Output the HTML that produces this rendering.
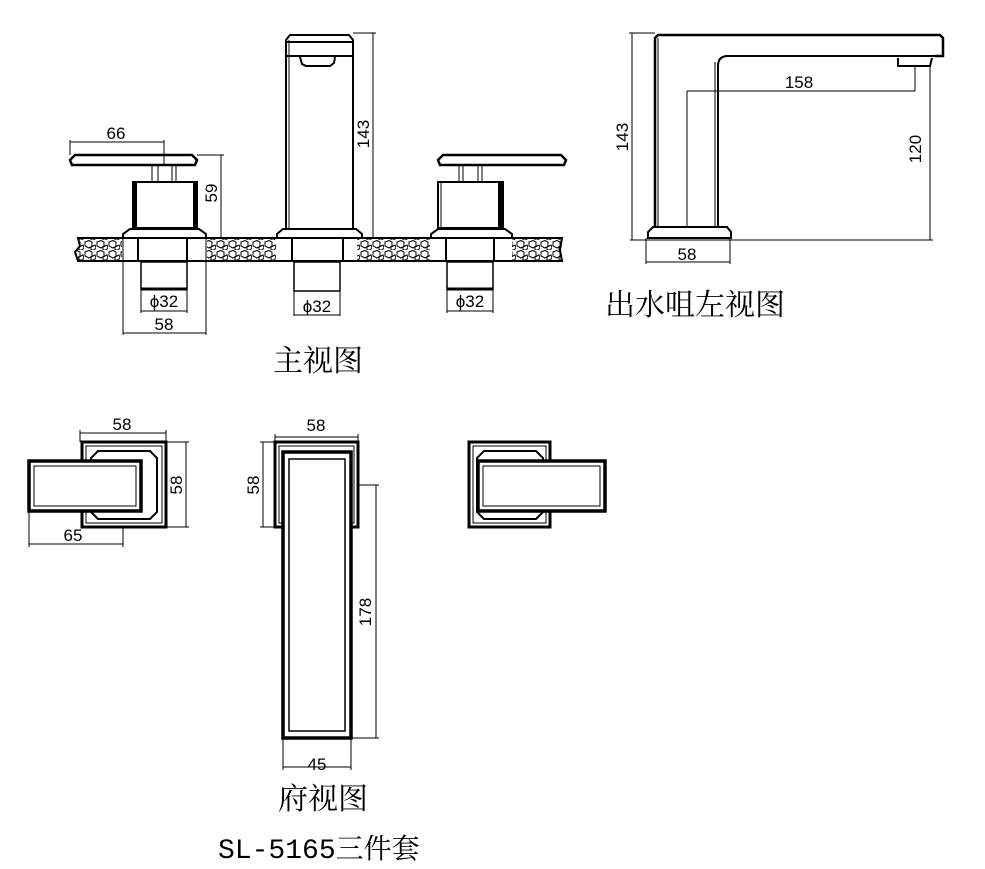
<!DOCTYPE html>
<html><head><meta charset="utf-8"><style>
html,body{margin:0;padding:0;background:#fff;}
svg{display:block;}
.d{font-family:"Liberation Sans",sans-serif;font-size:17px;fill:#000;}
.c{font-family:"Liberation Serif","Noto Serif CJK SC",serif;font-size:30px;fill:#000;}
</style></head><body>
<svg width="985" height="869" viewBox="0 0 985 869" xmlns="http://www.w3.org/2000/svg">
<defs>
<pattern id="peb" width="12" height="10" patternUnits="userSpaceOnUse">
<path d="M1 2 L5 0.5 L8 2 L8 6 L5 8 L1 6 Z M7 7 L11 5 L12 8 L10 10 L7 10 Z" fill="none" stroke="#000" stroke-width="1"/>
</pattern>
</defs>
<g fill="none" stroke="#000" stroke-width="1">
<path d="M78 238 L562 238 L560 250 L562 261 L78 261 L75 252 L80 246 Z" fill="url(#peb)" stroke-width="2"/>
<rect x="122" y="238" width="85" height="23" fill="#fff" stroke="none"/>
<rect x="276" y="238" width="81" height="23" fill="#fff" stroke="none"/>
<rect x="430" y="238" width="82" height="23" fill="#fff" stroke="none"/>
<line x1="78" y1="238" x2="562" y2="238" stroke-width="2"/>
<line x1="78" y1="261" x2="562" y2="261" stroke-width="2"/>

<path d="M72 165 L70 160 L75 155 L192 155 L197 160 L195 165 Z" stroke-width="2.5"/>
<line x1="152" y1="165" x2="152" y2="182"/><line x1="158" y1="165" x2="158" y2="182"/>
<line x1="172" y1="165" x2="172" y2="182"/><line x1="176" y1="165" x2="176" y2="182"/>
<rect x="133" y="182" width="64" height="46" stroke-width="2"/>
<line x1="135" y1="182" x2="135" y2="228" stroke-width="4"/><line x1="195" y1="182" x2="195" y2="228" stroke-width="4"/>
<path d="M123 238 L123 234 L130 229 L199 229 L206 234 L206 238" stroke-width="2"/>
<line x1="123" y1="238" x2="123" y2="335"/><line x1="206" y1="238" x2="206" y2="335"/>
<line x1="138" y1="238" x2="138" y2="262" stroke-width="2"/><line x1="187" y1="238" x2="187" y2="262" stroke-width="2"/>
<rect x="141" y="262" width="46" height="27" stroke-width="1.5"/><line x1="141" y1="289" x2="187" y2="289" stroke-width="3"/>
<line x1="141" y1="289" x2="141" y2="313"/><line x1="187" y1="289" x2="187" y2="313"/>

<path d="M286 230 L286 40 L290 35 L349 35 L353 40 L353 230" stroke-width="2"/>
<line x1="289" y1="40" x2="289" y2="228"/>
<line x1="286" y1="42" x2="353" y2="42" stroke-width="2"/>
<line x1="286" y1="56" x2="353" y2="56" stroke-width="2"/>
<path d="M300 57 L302 64 L306 66 L330 66 L334 63 L335 57" stroke-width="2"/>
<path d="M277 238 L277 234 L283 229 L356 229 L362 234 L362 238" stroke-width="2"/>
<line x1="292" y1="238" x2="292" y2="262" stroke-width="2"/><line x1="343" y1="238" x2="343" y2="262" stroke-width="2"/>
<rect x="294" y="262" width="46" height="29" stroke-width="1.5"/>
<line x1="294" y1="291" x2="294" y2="316"/><line x1="340" y1="291" x2="340" y2="316"/>

<path d="M440 165 L438 160 L443 155 L561 155 L566 160 L564 165 Z" stroke-width="2.5"/>
<line x1="459" y1="165" x2="459" y2="182"/><line x1="463" y1="165" x2="463" y2="182"/>
<line x1="478" y1="165" x2="478" y2="182"/><line x1="482" y1="165" x2="482" y2="182"/>
<rect x="438" y="182" width="65" height="46" stroke-width="2"/>
<line x1="441" y1="182" x2="441" y2="228"/><line x1="500" y1="182" x2="500" y2="228" stroke-width="4"/>
<path d="M431 238 L431 234 L438 229 L505 229 L512 234 L512 238" stroke-width="2"/>
<line x1="446" y1="238" x2="446" y2="262" stroke-width="2"/><line x1="494" y1="238" x2="494" y2="262" stroke-width="2"/>
<rect x="447" y="262" width="46" height="27" stroke-width="1.5"/><line x1="447" y1="289" x2="493" y2="289" stroke-width="3"/>
<line x1="447" y1="289" x2="447" y2="313"/><line x1="493" y1="289" x2="493" y2="313"/>

<line x1="70" y1="142" x2="164" y2="142"/><line x1="70" y1="140" x2="70" y2="155"/><line x1="164" y1="140" x2="164" y2="165"/>
<line x1="221" y1="155" x2="221" y2="238"/><line x1="197" y1="155" x2="224" y2="155"/>
<line x1="373" y1="33" x2="373" y2="238"/><line x1="353" y1="33" x2="376" y2="33"/>
<line x1="141" y1="311" x2="187" y2="311"/>
<line x1="123" y1="333" x2="206" y2="333"/>
<line x1="294" y1="315" x2="340" y2="315"/>
<line x1="447" y1="311" x2="493" y2="311"/>

<path d="M655 227 L655 38 L658 35 L940 35 L943 38 L943 56 L935 56" stroke-width="2.5"/>
<line x1="658" y1="38" x2="658" y2="227"/>
<path d="M718 227 L718 66 Q718 56 728 56 L935 56" stroke-width="2"/>
<line x1="715" y1="62" x2="715" y2="227"/>
<path d="M898 58 L898 66 L930 66 L932 58" stroke-width="2"/>
<path d="M648 238 L648 232 L653 227 L727 227 L731 232 L731 238 Z" stroke-width="2"/>
<line x1="632" y1="33" x2="632" y2="240"/><line x1="629" y1="33" x2="655" y2="33"/>
<line x1="630" y1="240" x2="933" y2="240"/>
<line x1="687" y1="91" x2="915" y2="91"/><line x1="687" y1="91" x2="687" y2="227"/><line x1="915" y1="66" x2="915" y2="91"/>
<line x1="930" y1="66" x2="930" y2="240"/>
<line x1="646" y1="238" x2="646" y2="264"/><line x1="730" y1="238" x2="730" y2="264"/><line x1="646" y1="262" x2="730" y2="262"/>

<!-- top view left handle -->
<rect x="82" y="442" width="84" height="85" stroke-width="3"/>
<rect x="86" y="446" width="76" height="77"/>
<path d="M98 451 L150 451 L157 458 L157 512 L150 519 L98 519 L91 512 L91 458 Z" stroke-width="2"/>
<rect x="29" y="461" width="112" height="50" stroke-width="3.5" fill="#fff"/>
<rect x="34" y="466" width="102" height="40"/>
<line x1="80" y1="433" x2="166" y2="433"/><line x1="80" y1="430" x2="80" y2="442"/><line x1="166" y1="430" x2="166" y2="442"/>
<line x1="186" y1="442" x2="186" y2="527"/><line x1="166" y1="442" x2="189" y2="442"/><line x1="166" y1="527" x2="189" y2="527"/>
<line x1="29" y1="544" x2="123" y2="544"/><line x1="29" y1="511" x2="29" y2="547"/><line x1="123" y1="527" x2="123" y2="547"/>

<rect x="275" y="442" width="83" height="85" stroke-width="3"/>
<rect x="279" y="446" width="75" height="77"/>
<rect x="283" y="452" width="68" height="286" stroke-width="3.5" fill="#fff"/>
<rect x="289" y="459" width="56" height="272" stroke-width="1.5"/>
<line x1="275" y1="437" x2="358" y2="437"/><line x1="275" y1="434" x2="275" y2="442"/><line x1="358" y1="434" x2="358" y2="442"/>
<line x1="263" y1="442" x2="263" y2="527"/><line x1="260" y1="442" x2="275" y2="442"/><line x1="260" y1="527" x2="275" y2="527"/>
<line x1="376" y1="485" x2="376" y2="738"/><line x1="358" y1="485" x2="379" y2="485"/><line x1="351" y1="738" x2="379" y2="738"/>
<line x1="283" y1="767" x2="351" y2="767"/><line x1="283" y1="738" x2="283" y2="770"/><line x1="351" y1="738" x2="351" y2="770"/>

<rect x="469" y="442" width="81" height="85" stroke-width="3"/>
<rect x="473" y="446" width="73" height="77"/>
<path d="M484 451 L536 451 L543 458 L543 512 L536 519 L484 519 L477 512 L477 458 Z" stroke-width="2"/>
<rect x="478" y="461" width="127" height="50" stroke-width="3.5" fill="#fff"/>
<rect x="483" y="466" width="117" height="40"/>
</g>

<text class="d" x="116" y="139" text-anchor="middle">66</text>
<text class="d" transform="translate(217,193) rotate(-90)" text-anchor="middle">59</text>
<text class="d" transform="translate(369,134) rotate(-90)" text-anchor="middle">143</text>
<text class="d" x="164" y="307" text-anchor="middle" font-size="14">ϕ32</text>
<text class="d" x="164" y="330" text-anchor="middle">58</text>
<text class="d" x="317" y="312" text-anchor="middle" font-size="14">ϕ32</text>
<text class="d" x="470" y="307" text-anchor="middle" font-size="14">ϕ32</text>
<text class="d" transform="translate(628,137) rotate(-90)" text-anchor="middle">143</text>
<text class="d" x="799" y="88" text-anchor="middle">158</text>
<text class="d" transform="translate(921,149) rotate(-90)" text-anchor="middle">120</text>
<text class="d" x="687" y="260" text-anchor="middle">58</text>
<text class="d" x="122" y="430" text-anchor="middle">58</text>
<text class="d" transform="translate(182,485) rotate(-90)" text-anchor="middle">58</text>
<text class="d" x="73" y="541" text-anchor="middle">65</text>
<text class="d" x="316" y="431" text-anchor="middle">58</text>
<text class="d" transform="translate(259,485) rotate(-90)" text-anchor="middle">58</text>
<text class="d" transform="translate(371,612) rotate(-90)" text-anchor="middle">178</text>
<text class="d" x="317" y="770" text-anchor="middle">45</text>

<text class="c" x="273" y="371">主视图</text>
<text class="c" x="605" y="315">出水咀左视图</text>
<text class="c" x="278" y="809">府视图</text>
<text class="c" x="218" y="858" style='font-family:"Liberation Mono","Noto Serif CJK SC",serif;font-size:28px'>SL-5165三件套</text>
</svg>
</body></html>
